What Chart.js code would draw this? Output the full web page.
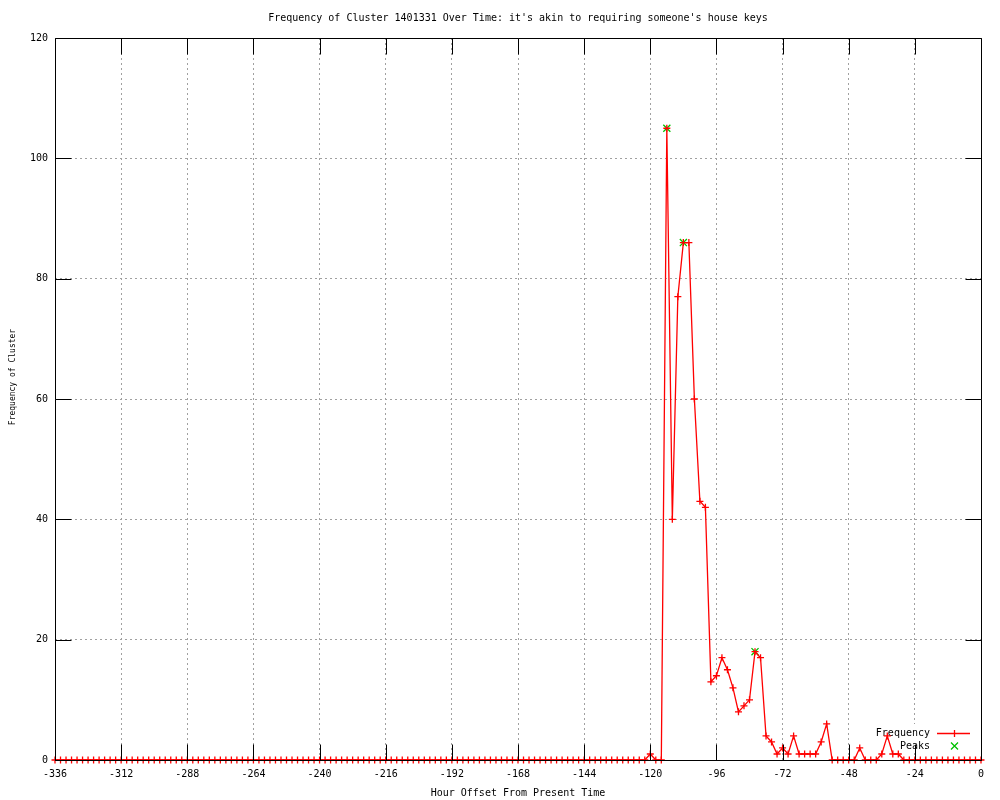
<!DOCTYPE html>
<html>
<head>
<meta charset="utf-8">
<script src="https://cdn.jsdelivr.net/npm/chart.js@4.4.0/dist/chart.umd.min.js"></script>
<style>
  body { margin: 0; background: #fff; }
  canvas { display: block; }
</style>
</head>
<body>
<canvas id="chart" width="1000" height="800"></canvas>
<script>
const chartTitle = "Frequency of Cluster 1401331 Over Time: it's akin to requiring someone's house keys";
const xAxisTitle = 'Hour Offset From Present Time';
const yAxisTitle = 'Frequency of Cluster';

// one sample every 2 hours, from -336 up to 0
const hourStart = -336;
const hourStep = 2;
const frequency = [
    0, 0, 0, 0, 0, 0, 0, 0, 0, 0, 0, 0,        // -336 .. -314
    0, 0, 0, 0, 0, 0, 0, 0, 0, 0, 0, 0,        // -312 .. -290
    0, 0, 0, 0, 0, 0, 0, 0, 0, 0, 0, 0,        // -288 .. -266
    0, 0, 0, 0, 0, 0, 0, 0, 0, 0, 0, 0,        // -264 .. -242
    0, 0, 0, 0, 0, 0, 0, 0, 0, 0, 0, 0,        // -240 .. -218
    0, 0, 0, 0, 0, 0, 0, 0, 0, 0, 0, 0,        // -216 .. -194
    0, 0, 0, 0, 0, 0, 0, 0, 0, 0, 0, 0,        // -192 .. -170
    0, 0, 0, 0, 0, 0, 0, 0, 0, 0, 0, 0,        // -168 .. -146
    0, 0, 0, 0, 0, 0, 0, 0, 0, 0, 0, 0,        // -144 .. -122
    1, 0, 0, 105, 40, 77, 86, 86, 60, 43, 42, 13, // -120 .. -98
    14, 17, 15, 12, 8, 9, 10, 18, 17, 4, 3, 1, // -96 .. -74
    2, 1, 4, 1, 1, 1, 1, 3, 6, 0, 0, 0,        // -72 .. -50
    0, 0, 2, 0, 0, 0, 1, 4, 1, 1, 0, 0,        // -48 .. -26
    0, 0, 0, 0, 0, 0, 0, 0, 0, 0, 0, 0,        // -24 .. -2
    0                                          // 0
];

const peakHours = [-114, -108, -82];
const peakValues = [105, 86, 18];

const xRange = [-336, 0];
const xTickStep = 24;
const yRange = [0, 120];
const yTickStep = 20;

const seriesNames = ['Frequency', 'Peaks'];
const lineColor = '#ff0000';
const peakColor = '#00c000';
const gridColor = '#a0a0a0';

const freqPoints = frequency.map((v, i) => ({ x: hourStart + i * hourStep, y: v }));
const peakPoints = peakHours.map((h, i) => ({ x: h, y: peakValues[i] }));

Chart.defaults.font.family = '"DejaVu Sans Mono", monospace';
Chart.defaults.font.size = 10;
Chart.defaults.color = '#000';

function crisp(v) {
    return Math.round(v) + 0.5;
}

function gridColorFor(range) {
    return (c) => {
        if (!c.tick) return gridColor;
        const v = c.tick.value;
        return (v === range[0] || v === range[1]) ? 'rgba(0,0,0,0)' : gridColor;
    };
}

// gnuplot style key, frame and mirrored inward tics
const gnuplotFrame = {
    id: 'gnuplotFrame',
    beforeDatasetsDraw(chart) {
        const { ctx } = chart;
        ctx.save();
        // key area hides the grid behind it
        ctx.fillStyle = '#fff';
        ctx.fillRect(872, 724, 106, 29);

        ctx.fillStyle = '#000';
        ctx.font = '10px "DejaVu Sans Mono"';
        ctx.textAlign = 'right';
        ctx.textBaseline = 'middle';
        ctx.fillText(seriesNames[0], 930, 733);
        ctx.fillText(seriesNames[1], 930, 746);

        ctx.lineWidth = 1.3;
        ctx.strokeStyle = lineColor;
        ctx.beginPath();
        ctx.moveTo(937, 733.5);
        ctx.lineTo(970, 733.5);
        ctx.moveTo(954.5, 730);
        ctx.lineTo(954.5, 737);
        ctx.stroke();

        ctx.strokeStyle = peakColor;
        ctx.beginPath();
        ctx.moveTo(951, 742.5);
        ctx.lineTo(958, 749.5);
        ctx.moveTo(958, 742.5);
        ctx.lineTo(951, 749.5);
        ctx.stroke();
        ctx.restore();
    },
    afterDatasetsDraw(chart) {
        const { ctx, chartArea: a, scales: { x, y } } = chart;
        const tickLen = 16;
        const L = crisp(a.left), R = crisp(a.right), T = crisp(a.top), B = crisp(a.bottom);
        ctx.save();
        ctx.strokeStyle = '#000';
        ctx.lineWidth = 1;
        ctx.beginPath();
        ctx.rect(L, T, R - L, B - T);
        x.ticks.forEach(t => {
            const px = crisp(x.getPixelForValue(t.value));
            ctx.moveTo(px, B);
            ctx.lineTo(px, B - tickLen);
            ctx.moveTo(px, T);
            ctx.lineTo(px, T + tickLen);
        });
        y.ticks.forEach(t => {
            const py = crisp(y.getPixelForValue(t.value));
            ctx.moveTo(L, py);
            ctx.lineTo(L + tickLen, py);
            ctx.moveTo(R, py);
            ctx.lineTo(R - tickLen, py);
        });
        ctx.stroke();

        ctx.fillStyle = '#000';
        ctx.font = '10px "DejaVu Sans Mono"';
        ctx.textAlign = 'center';
        ctx.textBaseline = 'middle';
        const cx = (a.left + a.right) / 2;
        ctx.fillText(chartTitle, cx, 18);
        ctx.fillText(xAxisTitle, cx, 793);

        ctx.translate(13, 377);
        ctx.rotate(-Math.PI / 2);
        ctx.font = '8px "DejaVu Sans Mono"';
        ctx.fillText(yAxisTitle, 0, 0);
        ctx.restore();
    }
};

const config = {
    type: 'line',
    data: {
        datasets: [{
            label: seriesNames[0],
            data: freqPoints,
            borderColor: lineColor,
            borderWidth: 1.3,
            pointStyle: 'cross',
            pointRadius: 3.5,
            pointBorderColor: lineColor,
            pointBorderWidth: 1.3,
            tension: 0,
            clip: false,
            order: 0
        }, {
            label: seriesNames[1],
            data: peakPoints,
            showLine: false,
            pointStyle: 'crossRot',
            pointRadius: 5,
            pointBorderColor: peakColor,
            pointBorderWidth: 1.3,
            clip: false,
            order: 1
        }]
    },
    options: {
        responsive: false,
        animation: false,
        devicePixelRatio: 1,
        layout: {
            padding: { top: 38, right: 19, bottom: 0, left: 0 }
        },
        plugins: {
            legend: { display: false },
            title: { display: false },
            tooltip: { enabled: false }
        },
        scales: {
            x: {
                type: 'linear',
                min: xRange[0],
                max: xRange[1],
                ticks: { stepSize: xTickStep, padding: 8, maxRotation: 0, autoSkip: false },
                grid: { color: gridColorFor(xRange), drawTicks: false },
                border: { display: false, dash: [2, 3] },
                afterFit: s => { s.height = 40; }
            },
            y: {
                type: 'linear',
                min: yRange[0],
                max: yRange[1],
                ticks: { stepSize: yTickStep, padding: 7 },
                grid: { color: gridColorFor(yRange), drawTicks: false },
                border: { display: false, dash: [2, 3] },
                afterFit: s => { s.width = 55; }
            }
        }
    },
    plugins: [gnuplotFrame]
};

const chart = new Chart(document.getElementById('chart'), config);
</script>
</body>
</html>
